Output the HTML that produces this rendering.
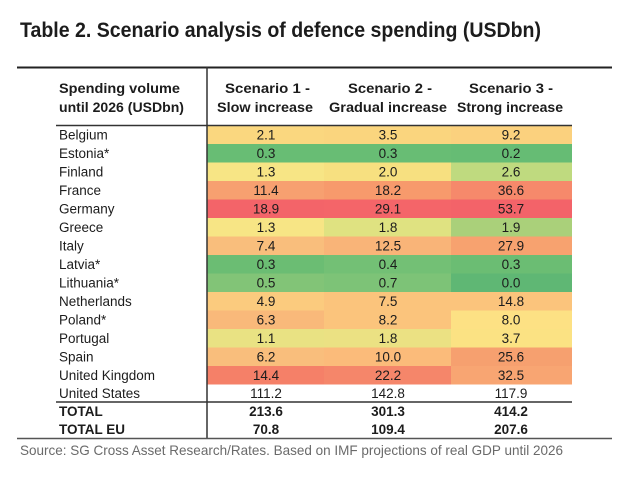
<!DOCTYPE html>
<html>
<head>
<meta charset="utf-8">
<style>
  html,body{margin:0;padding:0;background:#fff;}
  svg{display:block;}
  .t{font-family:"Liberation Sans",Arial,sans-serif;fill:#1c1c1c;}
</style>
</head>
<body>
<svg width="624" height="484" viewBox="0 0 624 484" xmlns="http://www.w3.org/2000/svg">
  <rect x="0" y="0" width="624" height="484" fill="#fff"/>

  <!-- Title -->
  <text class="t" x="20" y="37" font-size="21" font-weight="bold" textLength="521" lengthAdjust="spacingAndGlyphs">Table 2. Scenario analysis of defence spending (USDbn)</text>

  <!-- Cell colours -->
  <g shape-rendering="crispEdges">
    <!-- Belgium -->
    <rect x="207" y="125.5" width="117" height="18.5" fill="#FAD77F"/>
    <rect x="324" y="125.5" width="127" height="18.5" fill="#FAD57E"/>
    <rect x="451" y="125.5" width="121" height="18.5" fill="#FBD17E"/>
    <!-- Estonia -->
    <rect x="207" y="144" width="117" height="18.5" fill="#68BD74"/>
    <rect x="324" y="144" width="127" height="18.5" fill="#68BD74"/>
    <rect x="451" y="144" width="121" height="18.5" fill="#66BC74"/>
    <!-- Finland -->
    <rect x="207" y="162.5" width="117" height="18.5" fill="#F7E585"/>
    <rect x="324" y="162.5" width="127" height="18.5" fill="#F7E080"/>
    <rect x="451" y="162.5" width="121" height="18.5" fill="#BFDA7F"/>
    <!-- France -->
    <rect x="207" y="181" width="117" height="18.5" fill="#F7A070"/>
    <rect x="324" y="181" width="127" height="18.5" fill="#F79A6C"/>
    <rect x="451" y="181" width="121" height="18.5" fill="#F6896B"/>
    <!-- Germany -->
    <rect x="207" y="199.5" width="117" height="18.5" fill="#F36469"/>
    <rect x="324" y="199.5" width="127" height="18.5" fill="#F46569"/>
    <rect x="451" y="199.5" width="121" height="18.5" fill="#F36369"/>
    <!-- Greece -->
    <rect x="207" y="218" width="117" height="18.5" fill="#F7E585"/>
    <rect x="324" y="218" width="127" height="18.5" fill="#DFE281"/>
    <rect x="451" y="218" width="121" height="18.5" fill="#AAD07A"/>
    <!-- Italy -->
    <rect x="207" y="236.5" width="117" height="18.5" fill="#F9BE7C"/>
    <rect x="324" y="236.5" width="127" height="18.5" fill="#F9B478"/>
    <rect x="451" y="236.5" width="121" height="18.5" fill="#F7A26F"/>
    <!-- Latvia -->
    <rect x="207" y="255" width="117" height="18.5" fill="#6BBD73"/>
    <rect x="324" y="255" width="127" height="18.5" fill="#73C075"/>
    <rect x="451" y="255" width="121" height="18.5" fill="#6BBD73"/>
    <!-- Lithuania -->
    <rect x="207" y="273.5" width="117" height="18.5" fill="#82C477"/>
    <rect x="324" y="273.5" width="127" height="18.5" fill="#7DC377"/>
    <rect x="451" y="273.5" width="121" height="18.5" fill="#5FB774"/>
    <!-- Netherlands -->
    <rect x="207" y="292" width="117" height="18.5" fill="#FBCB7E"/>
    <rect x="324" y="292" width="127" height="18.5" fill="#FBC47C"/>
    <rect x="451" y="292" width="121" height="18.5" fill="#FBC47C"/>
    <!-- Poland -->
    <rect x="207" y="310.5" width="117" height="18.5" fill="#F9B97A"/>
    <rect x="324" y="310.5" width="127" height="18.5" fill="#FBC47C"/>
    <rect x="451" y="310.5" width="121" height="18.5" fill="#FDE184"/>
    <!-- Portugal -->
    <rect x="207" y="329" width="117" height="18.5" fill="#E9E283"/>
    <rect x="324" y="329" width="127" height="18.5" fill="#EBE183"/>
    <rect x="451" y="329" width="121" height="18.5" fill="#FBE283"/>
    <!-- Spain -->
    <rect x="207" y="347.5" width="117" height="18.5" fill="#F9BE7C"/>
    <rect x="324" y="347.5" width="127" height="18.5" fill="#FBBB7A"/>
    <rect x="451" y="347.5" width="121" height="18.5" fill="#F6A06F"/>
    <!-- UK -->
    <rect x="207" y="366" width="117" height="18.5" fill="#F58068"/>
    <rect x="324" y="366" width="127" height="18.5" fill="#F5866A"/>
    <rect x="451" y="366" width="121" height="18.5" fill="#F8A572"/>
  </g>

  <!-- Lines -->
  <line x1="17" y1="67.5" x2="612" y2="67.5" stroke="#222" stroke-width="2"/>
  <line x1="207" y1="67" x2="207" y2="438" stroke="#333" stroke-width="1.5"/>
  <line x1="56" y1="125.5" x2="572" y2="125.5" stroke="#333" stroke-width="1.5"/>
  <line x1="56" y1="402" x2="572" y2="402" stroke="#333" stroke-width="1.5"/>
  <line x1="17" y1="438.5" x2="612" y2="438.5" stroke="#555" stroke-width="1.5"/>

  <!-- Header -->
  <g class="t" font-size="13.5" font-weight="bold" fill="#222">
    <text x="59" y="93" textLength="121" lengthAdjust="spacingAndGlyphs">Spending volume</text>
    <text x="59" y="112" textLength="125" lengthAdjust="spacingAndGlyphs">until 2026 (USDbn)</text>
    <text x="225" y="93" textLength="85" lengthAdjust="spacingAndGlyphs">Scenario 1 -</text>
    <text x="217" y="112" textLength="96" lengthAdjust="spacingAndGlyphs">Slow increase</text>
    <text x="348" y="93" textLength="84" lengthAdjust="spacingAndGlyphs">Scenario 2 -</text>
    <text x="329" y="112" textLength="118" lengthAdjust="spacingAndGlyphs">Gradual increase</text>
    <text x="469" y="93" textLength="84" lengthAdjust="spacingAndGlyphs">Scenario 3 -</text>
    <text x="457" y="112" textLength="106" lengthAdjust="spacingAndGlyphs">Strong increase</text>
  </g>

  <!-- Row labels -->
  <g class="t" font-size="13.5">
    <text x="59" y="139.5">Belgium</text>
    <text x="59" y="158">Estonia*</text>
    <text x="59" y="176.5">Finland</text>
    <text x="59" y="195">France</text>
    <text x="59" y="213.5">Germany</text>
    <text x="59" y="232">Greece</text>
    <text x="59" y="250.5">Italy</text>
    <text x="59" y="269">Latvia*</text>
    <text x="59" y="287.5">Lithuania*</text>
    <text x="59" y="306">Netherlands</text>
    <text x="59" y="324.5">Poland*</text>
    <text x="59" y="343">Portugal</text>
    <text x="59" y="361.5">Spain</text>
    <text x="59" y="380">United Kingdom</text>
    <text x="59" y="398">United States</text>
    <text x="59" y="416" font-weight="bold">TOTAL</text>
    <text x="59" y="434" font-weight="bold">TOTAL EU</text>
  </g>

  <!-- Values -->
  <g class="t" font-size="13.5" text-anchor="middle">
    <text x="266" y="139.5">2.1</text><text x="388" y="139.5">3.5</text><text x="511" y="139.5">9.2</text>
    <text x="266" y="158">0.3</text><text x="388" y="158">0.3</text><text x="511" y="158">0.2</text>
    <text x="266" y="176.5">1.3</text><text x="388" y="176.5">2.0</text><text x="511" y="176.5">2.6</text>
    <text x="266" y="195">11.4</text><text x="388" y="195">18.2</text><text x="511" y="195">36.6</text>
    <text x="266" y="213.5">18.9</text><text x="388" y="213.5">29.1</text><text x="511" y="213.5">53.7</text>
    <text x="266" y="232">1.3</text><text x="388" y="232">1.8</text><text x="511" y="232">1.9</text>
    <text x="266" y="250.5">7.4</text><text x="388" y="250.5">12.5</text><text x="511" y="250.5">27.9</text>
    <text x="266" y="269">0.3</text><text x="388" y="269">0.4</text><text x="511" y="269">0.3</text>
    <text x="266" y="287.5">0.5</text><text x="388" y="287.5">0.7</text><text x="511" y="287.5">0.0</text>
    <text x="266" y="306">4.9</text><text x="388" y="306">7.5</text><text x="511" y="306">14.8</text>
    <text x="266" y="324.5">6.3</text><text x="388" y="324.5">8.2</text><text x="511" y="324.5">8.0</text>
    <text x="266" y="343">1.1</text><text x="388" y="343">1.8</text><text x="511" y="343">3.7</text>
    <text x="266" y="361.5">6.2</text><text x="388" y="361.5">10.0</text><text x="511" y="361.5">25.6</text>
    <text x="266" y="380">14.4</text><text x="388" y="380">22.2</text><text x="511" y="380">32.5</text>
    <text x="266" y="398">111.2</text><text x="388" y="398">142.8</text><text x="511" y="398">117.9</text>
    <g font-weight="bold">
      <text x="266" y="416">213.6</text><text x="388" y="416">301.3</text><text x="511" y="416">414.2</text>
      <text x="266" y="434">70.8</text><text x="388" y="434">109.4</text><text x="511" y="434">207.6</text>
    </g>
  </g>

  <!-- Source -->
  <text x="20" y="455" font-family="'Liberation Sans',Arial,sans-serif" font-size="14" fill="#6a6a6a" textLength="543" lengthAdjust="spacingAndGlyphs">Source: SG Cross Asset Research/Rates. Based on IMF projections of real GDP until 2026</text>
</svg>
</body>
</html>
